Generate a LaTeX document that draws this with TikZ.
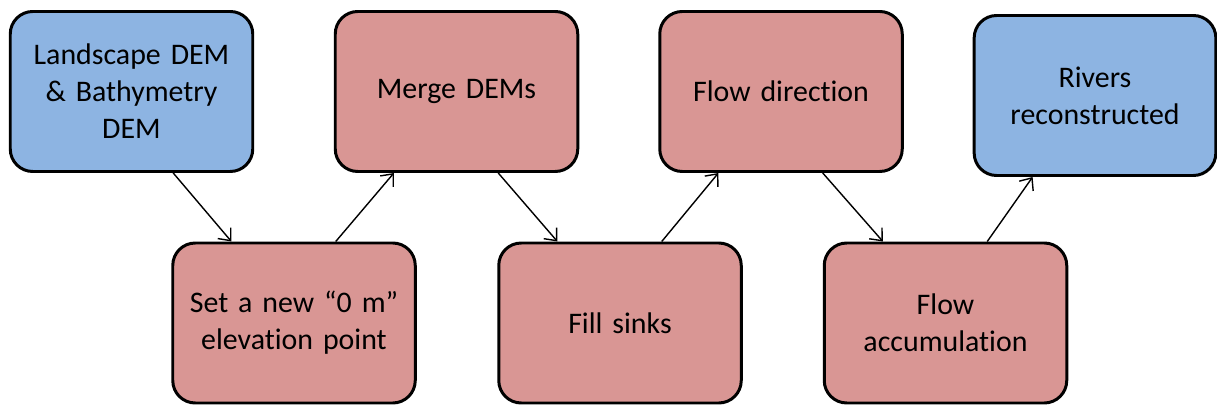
\documentclass[tikz,border=0pt]{standalone}
\usepackage{fontspec}
\setmainfont{Carlito}[Ligatures=NoCommon]
\usepackage{xcolor}
\usetikzlibrary{arrows.meta,positioning,calc}
\definecolor{inblue}{RGB}{141,180,226}
\definecolor{procred}{RGB}{217,150,148}

\begin{document}
\begin{tikzpicture}[
    stepbox/.style={draw=black, line width=1.7pt, rounded corners=0.45cm,
        minimum width=4.85cm, minimum height=3.2cm, text width=4.6cm, align=center,
        font=\fontsize{17}{21}\selectfont},
    inbox/.style={stepbox, fill=inblue},
    procbox/.style={stepbox, fill=procred},
    flow/.style={-{Straight Barb[length=2mm,width=3.4mm]}, line width=0.8pt}]
    \useasboundingbox (0,0) rectangle (24.34,-8.12);

    % Top row
    \node[inbox] (land) at (2.63,-1.83) {Landscape DEM\\ \& Bathymetry\\ DEM};
    \node[procbox] (merge) at (9.13,-1.83) {Merge DEMs};
    \node[procbox] (fdir) at (15.62,-1.83) {Flow direct\kern0pt ion};
    \node[inbox, minimum width=4.8cm] (rivers) at (21.9,-1.91) {Rivers\\ reconstructed};

    % Bottom row
    \node[procbox] (zero) at (5.88,-6.46) {Set a new \textquotedblleft0 m\textquotedblright\\ elevation point};
    \node[procbox] (fill) at (12.40,-6.46) {Fill sinks};
    \node[procbox] (facc) at (18.91,-6.46) {Flow\\ accumulat\kern0pt ion};

    % Arrows
    \draw[flow] ($(land.south west)!0.67!(land.south east)$) -- ($(zero.north west)!0.245!(zero.north east)$);
    \draw[flow] ($(zero.north west)!0.67!(zero.north east)$) -- ($(merge.south west)!0.245!(merge.south east)$);
    \draw[flow] ($(merge.south west)!0.67!(merge.south east)$) -- ($(fill.north west)!0.245!(fill.north east)$);
    \draw[flow] ($(fill.north west)!0.67!(fill.north east)$) -- ($(fdir.south west)!0.245!(fdir.south east)$);
    \draw[flow] ($(fdir.south west)!0.67!(fdir.south east)$) -- ($(facc.north west)!0.245!(facc.north east)$);
    \draw[flow] ($(facc.north west)!0.67!(facc.north east)$) -- ($(rivers.south west)!0.245!(rivers.south east)$);
\end{tikzpicture}
\end{document}
